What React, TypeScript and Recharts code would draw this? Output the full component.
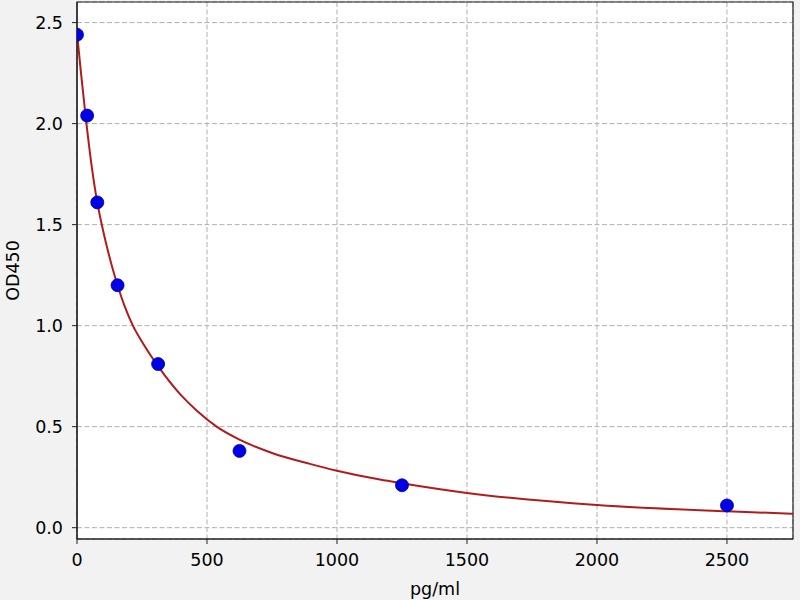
import React from 'react';
import {
  ComposedChart,
  Line,
  Scatter,
  XAxis,
  YAxis,
  CartesianGrid,
  ReferenceArea,
} from 'recharts';

// Measured standards (pg/ml vs OD450)
const standardConc = [0, 39, 78, 156, 312, 625, 1250, 2500];
const standardOD = [2.44, 2.04, 1.61, 1.2, 0.81, 0.38, 0.21, 0.11];

// Fitted curve
const curveConc = [0, 15, 35, 58, 78, 95, 115, 135, 156, 185, 215, 250, 313, 400, 460, 537, 623, 750, 896, 1000, 1165, 1254, 1500, 2000, 2500, 2754];
const curveOD = [2.45, 2.255, 2.015, 1.775, 1.61, 1.502, 1.39, 1.292, 1.2, 1.09, 1.0, 0.92, 0.797, 0.656, 0.58, 0.5, 0.437, 0.37, 0.316, 0.282, 0.238, 0.219, 0.172, 0.112, 0.081, 0.069];

const xTicks = [0, 500, 1000, 1500, 2000, 2500];
const yTicks = [0, 0.5, 1.0, 1.5, 2.0, 2.5];
const xDomain: [number, number] = [0, 2754];
const yDomain: [number, number] = [-0.056, 2.602];

const pointData = standardConc.map((x, i) => ({ x, y: standardOD[i] }));
const curveData = curveConc.map((x, i) => ({ x, y: curveOD[i] }));

const FONT = 'DejaVu Sans, sans-serif';
const FS = 17.5;

const YLabel = (props: any) => {
  const vb = props.viewBox || {};
  const cx = 12.5;
  const cy = vb.y + vb.height / 2;
  return (
    <text
      x={cx}
      y={cy}
      transform={`rotate(-90, ${cx}, ${cy})`}
      textAnchor="middle"
      dominantBaseline="central"
      fontSize={FS}
      fontFamily={FONT}
      fill="#000"
    >
      OD450
    </text>
  );
};

const Dot = (props: any) => {
  const { cx, cy } = props;
  return <circle cx={cx} cy={cy} r={6.5} fill="#0000e6" stroke="#0000a0" strokeWidth={0.8} />;
};

export default function App() {
  return (
    <div
      style={{
        position: 'fixed',
        left: 0,
        top: 0,
        width: 800,
        height: 600,
        background: '#f2f2f2',
      }}
    >
      <ComposedChart
        width={800}
        height={600}
        margin={{ top: 2, right: 7, bottom: 0, left: 0 }}
      >
        <CartesianGrid
          stroke="#b0b0b0"
          strokeDasharray="5 2.5"
          fill="#ffffff"
        />
        <XAxis
          dataKey="x"
          type="number"
          domain={xDomain}
          ticks={xTicks}
          allowDataOverflow
          height={61}
          tickSize={5}
          tickMargin={10}
          axisLine={{ stroke: '#222', strokeWidth: 1.2 }}
          tickLine={{ stroke: '#222', strokeWidth: 1 }}
          tick={{ fontSize: FS, fontFamily: FONT, fill: '#000' }}
          label={{
            value: 'pg/ml',
            position: 'insideBottom',
            offset: 5,
            fontSize: FS,
            fontFamily: FONT,
            fill: '#000',
          }}
        />
        <YAxis
          dataKey="y"
          type="number"
          domain={yDomain}
          ticks={yTicks}
          allowDataOverflow
          width={77}
          tickSize={5}
          tickMargin={9}
          tickFormatter={(v: number) => v.toFixed(1)}
          axisLine={{ stroke: '#222', strokeWidth: 1.2 }}
          tickLine={{ stroke: '#222', strokeWidth: 1 }}
          tick={{ fontSize: FS, fontFamily: FONT, fill: '#000' }}
          label={<YLabel />}
        />
        <ReferenceArea
          x1={xDomain[0]}
          x2={xDomain[1]}
          y1={yDomain[0]}
          y2={yDomain[1]}
          fill="none"
          fillOpacity={0}
          stroke="#222"
          strokeWidth={1.2}
          ifOverflow="visible"
        />
        <Scatter
          data={pointData}
          dataKey="y"
          shape={<Dot />}
          isAnimationActive={false}
        />
        <Line
          data={curveData}
          dataKey="y"
          type="monotone"
          stroke="#b01c1c"
          strokeWidth={2}
          dot={false}
          activeDot={false}
          isAnimationActive={false}
        />
      </ComposedChart>
    </div>
  );
}
